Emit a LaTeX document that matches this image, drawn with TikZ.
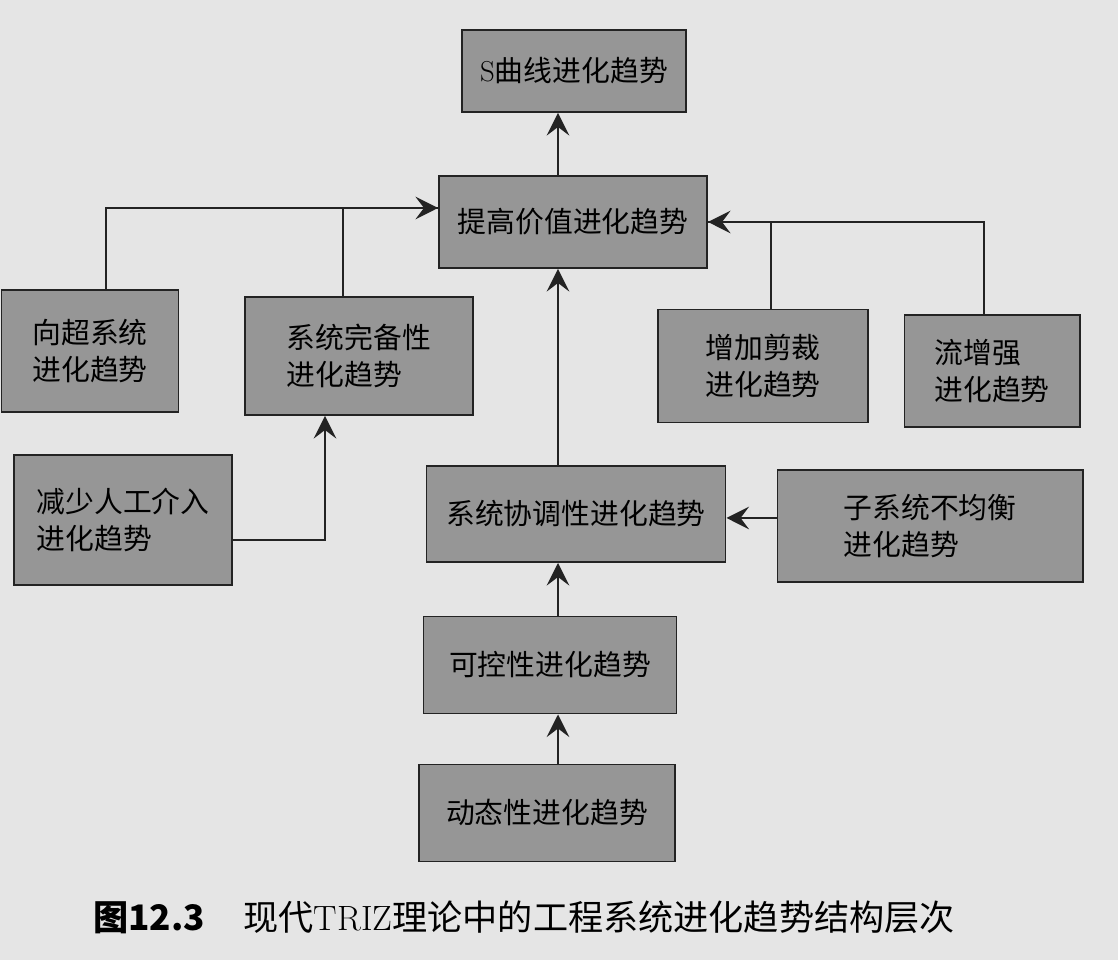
\documentclass[tikz,border=0pt]{standalone}
\usepackage{fontspec}
\newfontfamily\cjk{Noto Sans CJK SC}
\usetikzlibrary{arrows.meta}
\definecolor{paper}{RGB}{229,229,229}
\definecolor{boxgray}{RGB}{150,150,150}
\definecolor{ink}{RGB}{35,35,35}
\begin{document}
\begin{tikzpicture}[>={Stealth[length=16pt,width=16pt,inset=6pt]},
		trend/.style={draw=ink, line width=1.4pt, fill=boxgray, align=left, inner sep=0pt, font=\cjk\fontsize{20.5}{26}\selectfont},
		link/.style={draw=ink, line width=2pt}]
	% Page
	\fill[paper] (0, 0) rectangle (27.95, 24);
	\useasboundingbox (0, 0) rectangle (27.95, 24);
	
	% Main column
	\node[trend, minimum width=5.6cm, minimum height=2.05cm] (scurve) at (14.35, 22.225) {{\normalfont S}曲线进化趋势};
	\node[trend, minimum width=6.7cm, minimum height=2.3cm] (value) at (14.325, 18.45) {提高价值进化趋势};
	\node[trend, minimum width=7.475cm, minimum height=2.4cm] (coord) at (14.4, 11.15) {系统协调性进化趋势};
	\node[trend, minimum width=6.325cm, minimum height=2.425cm] (control) at (13.75, 7.375) {可控性进化趋势};
	\node[trend, minimum width=6.4cm, minimum height=2.425cm] (dynamic) at (13.675, 3.675) {动态性进化趋势};
	\coordinate (trunk) at (13.95, 0);
	
	% Left branch
	\node[trend, minimum width=4.425cm, minimum height=3.05cm] (supersys) at (2.25, 15.225) {向超系统\\进化趋势};
	\node[trend, minimum width=5.7cm, minimum height=2.95cm] (complete) at (8.975, 15.1) {系统完备性\\进化趋势};
	\node[trend, minimum width=5.45cm, minimum height=3.25cm] (labour) at (3.075, 11.0) {减少人工介入\\进化趋势};
	
	% Right branch
	\node[trend, minimum width=5.25cm, minimum height=2.825cm] (trim) at (19.075, 14.85) {增加剪裁\\进化趋势};
	\node[trend, minimum width=4.375cm, minimum height=2.8cm] (flow) at (24.8, 14.725) {流增强\\进化趋势};
	\node[trend, minimum width=7.625cm, minimum height=2.8cm] (uneven) at (23.25, 10.85) {子系统不均衡\\进化趋势};
	
	% Arrows
	\draw[link, ->] (dynamic.north -| trunk) -- (control.south -| trunk);
	\draw[link, ->] (control.north -| trunk) -- (coord.south -| trunk);
	\draw[link, ->] (coord.north -| trunk) -- (value.south -| trunk);
	\draw[link, ->] (value.north -| trunk) -- (scurve.south -| trunk);
	
	\coordinate (valuein) at ([yshift=0.35cm]value.west);
	\draw[link] ([xshift=-0.4cm]complete.north) |- (valuein);
	\draw[link, ->] ([xshift=0.4cm]supersys.north) |- (valuein);
	\draw[link, ->] ([yshift=-0.5cm]labour.east) -| ([xshift=-0.85cm]complete.south);
	
	\draw[link] ([xshift=0.2cm]trim.north) |- (value.east);
	\draw[link, ->] ([xshift=-0.2cm]flow.north) |- (value.east);
	\coordinate (coordin) at ([yshift=0.2cm]uneven.west);
	\draw[link, ->] (coordin) -- (coordin -| coord.east);
	
	% Caption
	\node[font=\fontsize{25}{30}\selectfont] (caption) at (13.1, 1.075) {{\cjk\bfseries 图12.3}\hspace{1.1em}{\cjk 现代}TRIZ{\cjk 理论中的工程系统进化趋势结构层次}};
\end{tikzpicture}
\end{document}
